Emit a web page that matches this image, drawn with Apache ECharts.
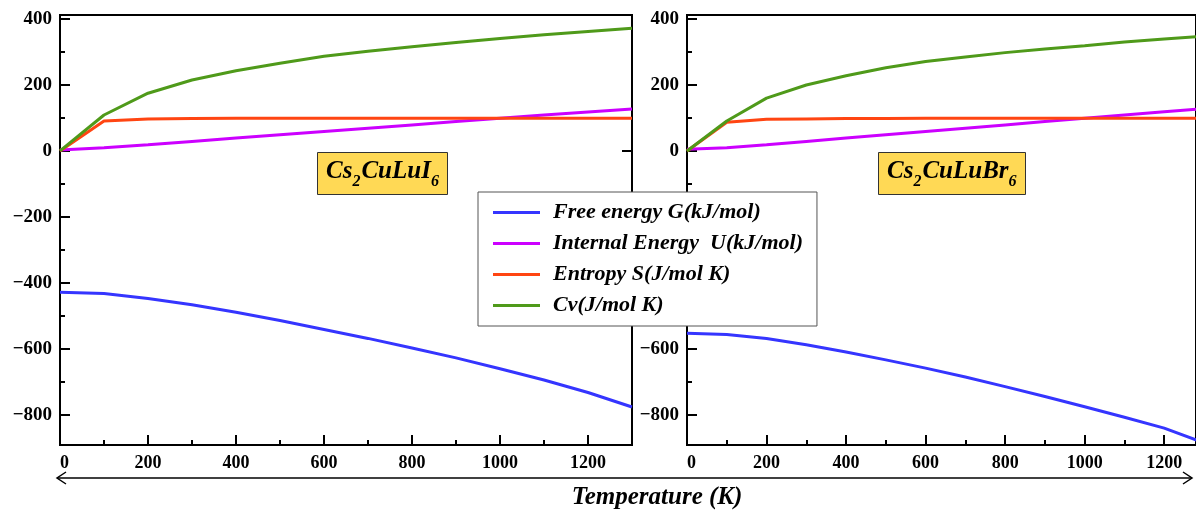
<!DOCTYPE html>
<html>
<head>
<meta charset="utf-8">
<script src="https://cdn.jsdelivr.net/npm/echarts@6/dist/echarts.min.js"></script>
<style>
  html, body { margin: 0; padding: 0; background: #fff; }
  #chart { width: 1196px; height: 510px; }
</style>
</head>
<body>
<div id="chart"></div>
<script>
// temperature points (K)
var temps = [0, 100, 200, 300, 400, 500, 600, 700, 800, 900, 1000, 1100, 1200, 1300];

// Cs2CuLuI6
var iodG  = [-428, -432, -447, -466, -489, -514, -541, -568, -597, -627, -660, -694, -732, -776];
var iodU  = [3, 10, 19, 29, 39, 49, 59, 69, 79, 89, 99, 109, 118, 127];
var iodS  = [0, 91, 97, 98, 99, 99, 99, 99, 99, 99, 99, 99, 99, 99];
var iodCv = [0, 109, 175, 215, 243, 266, 287, 302, 316, 329, 341, 352, 362, 372];

// Cs2CuLuBr6
var brG  = [-552, -556, -568, -587, -609, -633, -658, -685, -714, -744, -775, -807, -840, -884];
var brU  = [5, 10, 19, 29, 39, 49, 59, 69, 79, 89, 99, 109, 119, 128];
var brS  = [0, 87, 96, 97, 98, 98, 99, 99, 99, 99, 99, 99, 99, 99];
var brCv = [0, 91, 160, 200, 228, 252, 271, 285, 298, 309, 319, 330, 339, 348];

var names = ['Free energy G(kJ/mol)', 'Internal Energy  U(kJ/mol)', 'Entropy S(J/mol K)', 'Cv(J/mol K)'];
var colors = ['#3535FF', '#CC00FF', '#FF4512', '#4F9A1A'];

var xMajor = [0, 200, 400, 600, 800, 1000, 1200];
var xMinor = [100, 300, 500, 700, 900, 1100];
var yMajor = [-800, -600, -400, -200, 0, 200, 400];
var yMinor = [-700, -500, -300, -100, 100, 300];

var serif = 'Liberation Serif';
var plain = function (v) { return String(v).replace('-', '\u2212'); };

function pairs(ys) {
    return temps.map(function (t, i) { return [t, ys[i]]; });
}

function xMain(grid, max) {
    return {
        type: 'value', gridIndex: grid, position: 'bottom', min: 0, max: max,
        axisLine: { onZero: false, lineStyle: { color: '#000', width: 2 } },
        axisTick: { inside: true, length: 10, customValues: xMajor, lineStyle: { color: '#000', width: 2 } },
        axisLabel: { customValues: xMajor, formatter: plain, alignMinLabel: 'left', color: '#000', fontSize: 18, fontWeight: 'bold', fontFamily: serif, margin: 9 },
        splitLine: { show: false }
    };
}
function xSub(grid, max) {
    return {
        type: 'value', gridIndex: grid, position: 'bottom', min: 0, max: max,
        axisLine: { show: false, onZero: false },
        axisTick: { inside: true, length: 5, customValues: xMinor, lineStyle: { color: '#000', width: 2 } },
        axisLabel: { show: false },
        splitLine: { show: false }
    };
}
function yMain(grid) {
    return {
        type: 'value', gridIndex: grid, position: 'left', min: -891, max: 412,
        axisLine: { show: true, onZero: false, lineStyle: { color: '#000', width: 2 } },
        axisTick: { show: true, inside: true, length: 10, customValues: yMajor, lineStyle: { color: '#000', width: 2 } },
        axisLabel: { customValues: yMajor, formatter: plain, color: '#000', fontSize: 19, fontWeight: 'bold', fontFamily: serif, margin: 8 },
        splitLine: { show: false }
    };
}
function ySub(grid) {
    return {
        type: 'value', gridIndex: grid, position: 'left', min: -891, max: 412,
        axisLine: { show: false, onZero: false },
        axisTick: { show: true, inside: true, length: 5, customValues: yMinor, lineStyle: { color: '#000', width: 2 } },
        axisLabel: { show: false },
        splitLine: { show: false }
    };
}

var sets = [[iodG, iodU, iodS, iodCv], [brG, brU, brS, brCv]];
var yIdx = [0, 3];
var xIdx = [0, 2];
var series = [];
for (var g = 0; g < 2; g++) {
    for (var k = 0; k < 4; k++) {
        series.push({
            name: names[k],
            type: 'line',
            xAxisIndex: xIdx[g],
            yAxisIndex: yIdx[g],
            data: pairs(sets[g][k]),
            showSymbol: false,
            symbol: 'none',
            clip: true,
            lineStyle: { color: colors[k], width: 3 },
            itemStyle: { color: colors[k] }
        });
    }
}

var boxText = { fontSize: 25, fontWeight: 'bold', fontStyle: 'italic', fontFamily: serif, color: '#000' };
var boxRich = {
    a: { fontSize: 25, fontWeight: 'bold', fontStyle: 'italic', fontFamily: serif, color: '#000', lineHeight: 28 },
    b: { fontSize: 16, fontWeight: 'bold', fontStyle: 'italic', fontFamily: serif, color: '#000', lineHeight: 28, padding: [20, 1, 0, 0] }
};

var myChart = echarts.init(document.getElementById('chart'));
var option = {
    animation: false,
    color: colors,
    grid: [
        { left: 60, top: 15, width: 572, height: 430, show: true, borderColor: '#000', borderWidth: 2 },
        { left: 687, top: 15, width: 512, height: 430, show: true, borderColor: '#000', borderWidth: 2 }
    ],
    xAxis: [xMain(0, 1300), xSub(0, 1300), xMain(1, 1280), xSub(1, 1280)],
    yAxis: [
        yMain(0), ySub(0),
        {
            type: 'value', gridIndex: 0, position: 'right', min: -891, max: 412,
            axisLine: { show: true, onZero: false, lineStyle: { color: '#000', width: 2 } },
            axisTick: { show: true, inside: true, length: 10, customValues: [0], lineStyle: { color: '#000', width: 2 } },
            axisLabel: { show: false },
            splitLine: { show: false }
        },
        yMain(1), ySub(1)
    ],
    title: [
        {
            text: '{a|Cs}{b|2}{a|CuLuI}{b|6}', left: 317, top: 156,
            backgroundColor: '#FFD955', borderColor: '#333', borderWidth: 1, padding: [2, 8, 5, 9],
            textStyle: Object.assign({ rich: boxRich }, boxText)
        },
        {
            text: '{a|Cs}{b|2}{a|CuLuBr}{b|6}', left: 878, top: 156,
            backgroundColor: '#FFD955', borderColor: '#333', borderWidth: 1, padding: [2, 8, 5, 9],
            textStyle: Object.assign({ rich: boxRich }, boxText)
        }
    ],
    legend: {
        data: names,
        orient: 'vertical',
        left: 478, top: 192,
        icon: 'rect',
        itemWidth: 47, itemHeight: 3, itemGap: 8,
        padding: [9, 14, 9, 15],
        backgroundColor: '#fff',
        borderColor: '#555', borderWidth: 1,
        selectedMode: false,
        textStyle: { fontSize: 22, fontWeight: 'bold', fontStyle: 'italic', fontFamily: serif, color: '#000', lineHeight: 23, padding: [0, 0, 0, 8] }
    },
    graphic: [
        { type: 'line', shape: { x1: 57, y1: 478, x2: 1192, y2: 478 }, style: { stroke: '#000', lineWidth: 1.5 } },
        { type: 'polyline', shape: { points: [[66, 472], [57, 478], [66, 484]] }, style: { stroke: '#000', lineWidth: 1.5, fill: null } },
        { type: 'polyline', shape: { points: [[1183, 472], [1192, 478], [1183, 484]] }, style: { stroke: '#000', lineWidth: 1.5, fill: null } },
        {
            type: 'text', x: 657, y: 498,
            style: { text: 'Temperature (K)', align: 'center', verticalAlign: 'middle', fill: '#000',
                     font: 'italic bold 25px "Liberation Serif"' }
        }
    ],
    series: series
};
myChart.setOption(option);
</script>
</body>
</html>
